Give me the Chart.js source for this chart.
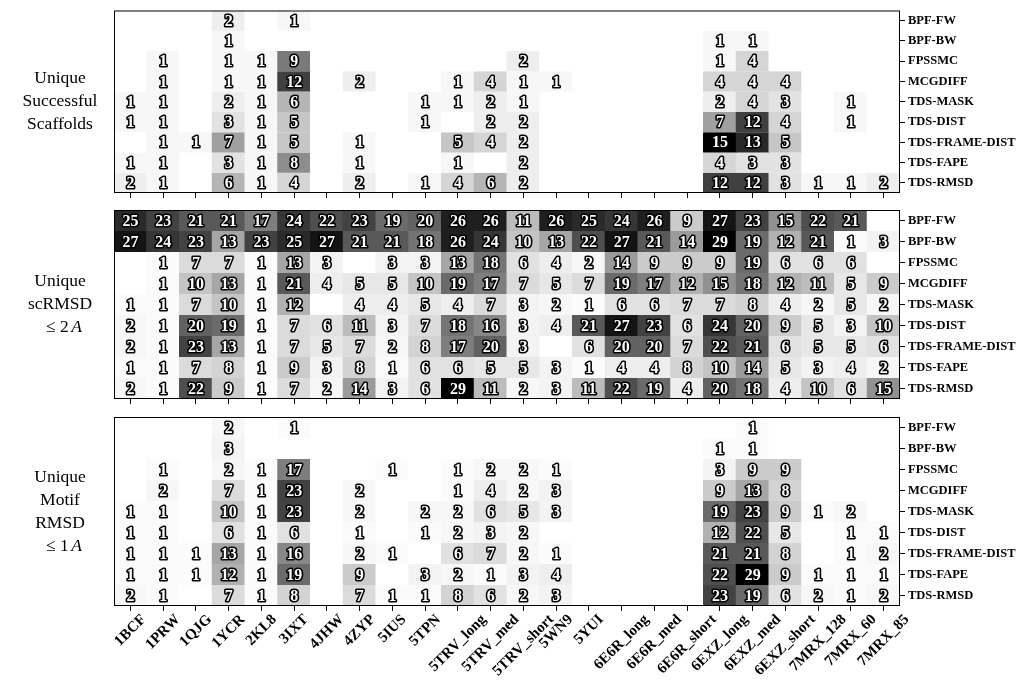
<!DOCTYPE html>
<html>
<head>
<meta charset="utf-8">
<script src="https://cdn.jsdelivr.net/npm/chart.js@4.4.0/dist/chart.umd.min.js"></script>
<style>
  html, body { margin: 0; padding: 0; background: #fff; }
  #figure { position: relative; width: 1018px; height: 691px; }
  #figure canvas { position: absolute; left: 0; top: 0; }
</style>
</head>
<body>
<div id="figure">
  <canvas id="panelScaffolds" width="1018" height="691"></canvas>
  <canvas id="panelScRmsd" width="1018" height="691"></canvas>
  <canvas id="panelMotif" width="1018" height="691"></canvas>
</div>
<script>
// Benchmark targets (columns) and sampling methods (rows)
const targets = ['1BCF', '1PRW', '1QJG', '1YCR', '2KL8', '3IXT', '4JHW', '4ZYP', '5IUS', '5TPN',
  '5TRV_long', '5TRV_med', '5TRV_short', '5WN9', '5YUI', '6E6R_long', '6E6R_med', '6E6R_short',
  '6EXZ_long', '6EXZ_med', '6EXZ_short', '7MRX_128', '7MRX_60', '7MRX_85'];

const methods = ['BPF-FW', 'BPF-BW', 'FPSSMC', 'MCGDIFF', 'TDS-MASK', 'TDS-DIST',
  'TDS-FRAME-DIST', 'TDS-FAPE', 'TDS-RMSD'];

// Unique successful scaffolds, one row per method
const successfulScaffolds = [
  [0,0,0,2,0,1,0,0,0,0,0,0,0,0,0,0,0,0,0,0,0,0,0,0],
  [0,0,0,1,0,0,0,0,0,0,0,0,0,0,0,0,0,0,1,1,0,0,0,0],
  [0,1,0,1,1,9,0,0,0,0,0,0,2,0,0,0,0,0,1,4,0,0,0,0],
  [0,1,0,1,1,12,0,2,0,0,1,4,1,1,0,0,0,0,4,4,4,0,0,0],
  [1,1,0,2,1,6,0,0,0,1,1,2,1,0,0,0,0,0,2,4,3,0,1,0],
  [1,1,0,3,1,5,0,0,0,1,0,2,2,0,0,0,0,0,7,12,4,0,1,0],
  [0,1,1,7,1,5,0,1,0,0,5,4,2,0,0,0,0,0,15,13,5,0,0,0],
  [1,1,0,3,1,8,0,1,0,0,1,0,2,0,0,0,0,0,4,3,3,0,0,0],
  [2,1,0,6,1,4,0,2,0,1,4,6,2,0,0,0,0,0,12,12,3,1,1,2]
];

// Unique designs with scRMSD <= 2 A
const scRmsdPasses = [
  [25,23,21,21,17,24,22,23,19,20,26,26,11,26,25,24,26,9,27,23,15,22,21,0],
  [27,24,23,13,23,25,27,21,21,18,26,24,10,13,22,27,21,14,29,19,12,21,1,3],
  [0,1,7,7,1,13,3,0,3,3,13,18,6,4,2,14,9,9,9,19,6,6,6,0],
  [0,1,10,13,1,21,4,5,5,10,19,17,7,5,7,19,17,12,15,18,12,11,5,9],
  [1,1,7,10,1,12,0,4,4,5,4,7,3,2,1,6,6,7,7,8,4,2,5,2],
  [2,1,20,19,1,7,6,11,3,7,18,16,3,4,21,27,23,6,24,20,9,5,3,10],
  [2,1,23,13,1,7,5,7,2,8,17,20,3,0,6,20,20,7,22,21,6,5,5,6],
  [1,1,7,8,1,9,3,8,1,6,6,5,5,3,1,4,4,8,10,14,5,3,4,2],
  [2,1,22,9,1,7,2,14,3,6,29,11,2,3,11,22,19,4,20,18,4,10,6,15]
];

// Unique designs with motif RMSD <= 1 A
const motifRmsdPasses = [
  [0,0,0,2,0,1,0,0,0,0,0,0,0,0,0,0,0,0,0,1,0,0,0,0],
  [0,0,0,3,0,0,0,0,0,0,0,0,0,0,0,0,0,0,1,1,0,0,0,0],
  [0,1,0,2,1,17,0,0,1,0,1,2,2,1,0,0,0,0,3,9,9,0,0,0],
  [0,2,0,7,1,23,0,2,0,0,1,4,2,3,0,0,0,0,9,13,8,0,0,0],
  [1,1,0,10,1,23,0,2,0,2,2,6,5,3,0,0,0,0,19,23,9,1,2,0],
  [1,1,0,6,1,6,0,1,0,1,2,3,2,0,0,0,0,0,12,22,5,0,1,1],
  [1,1,1,13,1,16,0,2,1,0,6,7,2,1,0,0,0,0,21,21,8,0,1,2],
  [1,1,1,12,1,19,0,9,0,3,2,1,3,4,0,0,0,0,22,29,9,1,1,1],
  [2,1,0,7,1,8,0,7,1,1,8,6,2,3,0,0,0,0,23,19,6,2,1,2]
];

const scaffoldsTitle = ['Unique', 'Successful', 'Scaffolds'];
const scRmsdTitle = ['Unique', 'scRMSD', '≤ 2A'];
const motifTitle = ['Unique', 'Motif', 'RMSD', '≤ 1A'];

// matplotlib "Greys" colormap stops (grey level at 0, 1/8, ..., 1)
const GREYS = [255, 240, 217, 189, 150, 115, 82, 37, 0];
function greys(t) {
  t = Math.max(0, Math.min(1, t));
  const p = t * 8;
  const i = Math.min(7, Math.floor(p));
  const f = p - i;
  const g = Math.round(GREYS[i] + (GREYS[i + 1] - GREYS[i]) * f);
  return `rgb(${g},${g},${g})`;
}

const SERIF = '"Liberation Serif", "Times New Roman", serif';
const FIG_W = 1018, FIG_H = 691;
const PLOT_LEFT = 114, PLOT_RIGHT = 900;

// white numbers with black outline inside every non-empty cell
const cellText = {
  id: 'cellText',
  afterDatasetsDraw(chart) {
    const ctx = chart.ctx;
    ctx.save();
    ctx.font = `bold 16px ${SERIF}`;
    ctx.textAlign = 'center';
    ctx.textBaseline = 'middle';
    ctx.lineJoin = 'round';
    ctx.lineWidth = 3.2;
    ctx.strokeStyle = '#000';
    ctx.fillStyle = '#fff';
    chart.data.datasets.forEach((ds, r) => {
      const meta = chart.getDatasetMeta(r);
      meta.data.forEach((bar, c) => {
        const v = ds.data[c].v;
        if (!v) return;
        const { x, y, base } = bar.getProps(['x', 'y', 'base'], true);
        const cy = (y + base) / 2 + 1;
        ctx.strokeText(String(v), x, cy);
        ctx.fillText(String(v), x, cy);
      });
    });
    ctx.restore();
  }
};

// axes frame and the row-group title on the left
const frameAndTitle = {
  id: 'frameAndTitle',
  afterDraw(chart, args, opts) {
    const ctx = chart.ctx;
    const a = chart.chartArea;
    ctx.save();
    ctx.strokeStyle = '#000';
    ctx.lineWidth = 1;
    ctx.strokeRect(a.left + 0.5, a.top + 0.5, a.right - a.left - 1, a.bottom - a.top - 1);

    const lines = opts.lines || [];
    const lh = 23;
    const fs = 17.5;
    const cx = 60;
    const cy = (a.top + a.bottom) / 2;
    ctx.fillStyle = '#000';
    ctx.textBaseline = 'middle';
    lines.forEach((ln, i) => {
      const y = cy + (i - (lines.length - 1) / 2) * lh;
      const m = ln.match(/^(≤ \d)([A-Z])$/);
      if (m) {
        ctx.font = `${fs}px ${SERIF}`;
        const w1 = ctx.measureText(m[1] + ' ').width;
        ctx.font = `italic ${fs}px ${SERIF}`;
        const w2 = ctx.measureText(m[2]).width;
        const x0 = cx - (w1 + w2) / 2 + 5;
        ctx.textAlign = 'left';
        ctx.font = `${fs}px ${SERIF}`;
        ctx.fillText(m[1], x0, y);
        ctx.font = `italic ${fs}px ${SERIF}`;
        ctx.fillText(m[2], x0 + w1 - 2, y);
      } else {
        ctx.font = `${fs}px ${SERIF}`;
        ctx.textAlign = 'center';
        ctx.fillText(ln, cx, y);
      }
    });
    ctx.restore();
  }
};

// rotated target names under the bottom panel, centred on their ticks
const targetLabels = {
  id: 'targetLabels',
  afterDraw(chart, args, opts) {
    if (!opts.show) return;
    const ctx = chart.ctx;
    const xs = chart.scales.x;
    const size = 15;
    ctx.save();
    ctx.font = `bold ${size}px ${SERIF}`;
    ctx.fillStyle = '#000';
    ctx.textAlign = 'center';
    ctx.textBaseline = 'middle';
    chart.data.labels.forEach((t, i) => {
      const px = xs.getPixelForTick(i);
      const L = ctx.measureText(t).width;
      const half = (L + size * 0.8) * Math.SQRT1_2 / 2;
      const cy = xs.top + 5 + 2 + half;
      ctx.save();
      ctx.translate(px, cy);
      ctx.rotate(-Math.PI / 4);
      ctx.fillText(t, 0, 0);
      ctx.restore();
    });
    ctx.restore();
  }
};

function makePanel(canvasId, values, titleLines, top, bottom, showTargets) {
  const vmax = Math.max(...values.flat());
  const datasets = methods.map((m, r) => ({
    label: m,
    data: targets.map((t, c) => ({ x: t, y: [r - 0.5, r + 0.5], v: values[r][c] })),
    backgroundColor: values[r].map(v => greys(v / vmax)),
    borderWidth: 0,
    barPercentage: 1.03,
    categoryPercentage: 1,
    grouped: false
  }));

  return new Chart(document.getElementById(canvasId), {
    type: 'bar',
    data: { labels: targets, datasets },
    options: {
      responsive: false,
      maintainAspectRatio: false,
      animation: false,
      devicePixelRatio: 1,
      events: [],
      layout: { padding: { top: top, left: PLOT_LEFT, right: 0, bottom: 0 } },
      plugins: {
        legend: { display: false },
        tooltip: { enabled: false },
        frameAndTitle: { lines: titleLines },
        targetLabels: { show: showTargets }
      },
      scales: {
        x: {
          type: 'category',
          position: 'bottom',
          offset: true,
          ticks: { display: false },
          grid: { display: true, drawOnChartArea: false, drawTicks: true, tickLength: 5, color: '#000', offset: false },
          border: { display: false },
          afterFit: s => { s.height = FIG_H - bottom; }
        },
        y: {
          type: 'linear',
          position: 'right',
          reverse: true,
          min: -0.5,
          max: 8.5,
          afterBuildTicks: s => { s.ticks = methods.map((m, i) => ({ value: i })); },
          ticks: {
            autoSkip: false,
            padding: 3,
            color: '#000',
            font: { family: SERIF, weight: 'bold', size: 12.5 },
            callback: v => methods[v]
          },
          grid: { display: true, drawOnChartArea: false, drawTicks: true, tickLength: 5, color: '#000' },
          border: { display: false },
          afterFit: s => { s.width = FIG_W - PLOT_RIGHT; }
        }
      }
    },
    plugins: [cellText, frameAndTitle, targetLabels]
  });
}

makePanel('panelScaffolds', successfulScaffolds, scaffoldsTitle, 4, 193, false);
makePanel('panelScRmsd', scRmsdPasses, scRmsdTitle, 210, 399, false);
makePanel('panelMotif', motifRmsdPasses, motifTitle, 417, 606, true);
</script>
</body>
</html>
